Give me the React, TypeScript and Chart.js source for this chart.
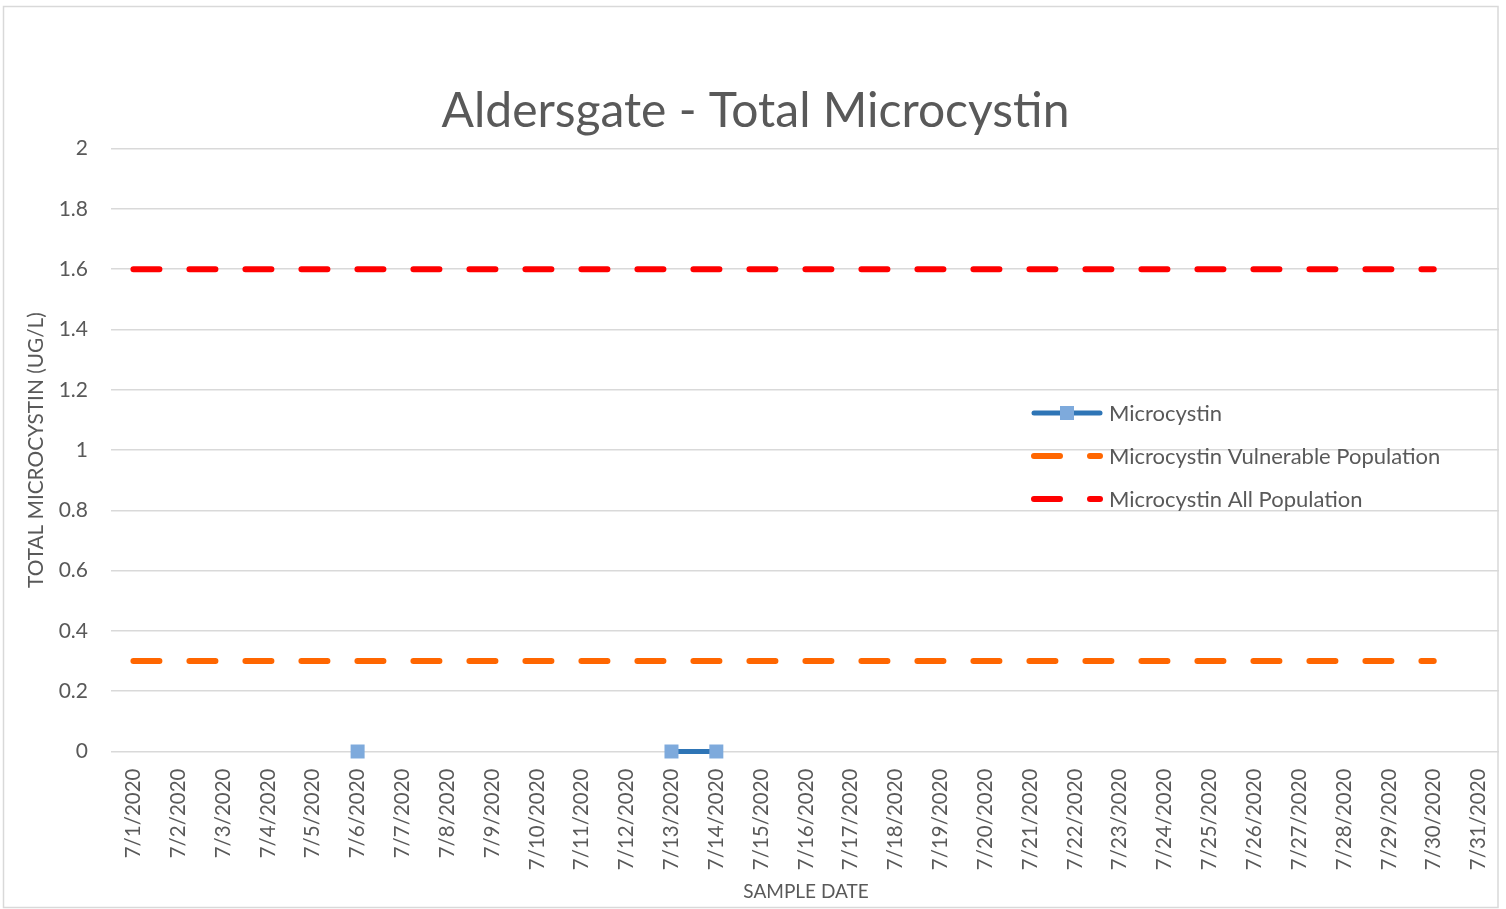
import React, { useEffect, useRef } from "react";
import { Chart, registerables } from "chart.js";

Chart.register(...registerables);

const CHART_TITLE = "Aldersgate - Total Microcystin";
const X_TITLE = "SAMPLE DATE";
const Y_TITLE = "TOTAL MICROCYSTIN (UG/L)";

const DATES = [
  "7/1/2020", "7/2/2020", "7/3/2020", "7/4/2020", "7/5/2020", "7/6/2020", "7/7/2020", "7/8/2020",
  "7/9/2020", "7/10/2020", "7/11/2020", "7/12/2020", "7/13/2020", "7/14/2020", "7/15/2020",
  "7/16/2020", "7/17/2020", "7/18/2020", "7/19/2020", "7/20/2020", "7/21/2020", "7/22/2020",
  "7/23/2020", "7/24/2020", "7/25/2020", "7/26/2020", "7/27/2020", "7/28/2020", "7/29/2020",
  "7/30/2020", "7/31/2020",
];

const MICROCYSTIN: (number | null)[] = [
  null, null, null, null, null, 0, null, null, null, null, null, null, 0, 0, null,
  null, null, null, null, null, null, null, null, null, null, null, null, null, null,
  null, null,
];

const VULNERABLE_POP: (number | null)[] = [
  0.3, 0.3, 0.3, 0.3, 0.3, 0.3, 0.3, 0.3, 0.3, 0.3, 0.3, 0.3, 0.3, 0.3, 0.3,
  0.3, 0.3, 0.3, 0.3, 0.3, 0.3, 0.3, 0.3, 0.3, 0.3, 0.3, 0.3, 0.3, 0.3, 0.3,
  null,
];

const ALL_POP: (number | null)[] = [
  1.6, 1.6, 1.6, 1.6, 1.6, 1.6, 1.6, 1.6, 1.6, 1.6, 1.6, 1.6, 1.6, 1.6, 1.6,
  1.6, 1.6, 1.6, 1.6, 1.6, 1.6, 1.6, 1.6, 1.6, 1.6, 1.6, 1.6, 1.6, 1.6, 1.6,
  null,
];

const SERIES_NAMES = ["Microcystin", "Microcystin Vulnerable Population", "Microcystin All Population"];

const Y_MIN = 0;
const Y_MAX = 2;
const Y_STEP = 0.2;

const FONT = "Lato, 'Open Sans', sans-serif";
const TEXT = "#595959";
const GRID = "#D9D9D9";

const W = 1506;
const H = 909;

const frameAndLegend = {
  id: "frameAndLegend",
  beforeDraw(chart: any) {
    const ctx = chart.ctx;
    ctx.save();
    ctx.fillStyle = "#FFFFFF";
    ctx.fillRect(0, 0, W, H);
    ctx.restore();
  },
  afterDraw(chart: any) {
    const ctx = chart.ctx;
    ctx.save();
    ctx.fillStyle = "#FFFFFF";
    ctx.fillRect(1499, 0, W - 1499, H);
    ctx.strokeStyle = GRID;
    ctx.lineWidth = 1.5;
    ctx.strokeRect(3.5, 6.5, 1494.5, 901);

    const ys = [413, 456, 499];
    const lx0 = 1034;
    const lx1 = 1100;
    chart.data.datasets.forEach((ds: any, i: number) => {
      const y = ys[i];
      ctx.save();
      ctx.strokeStyle = ds.borderColor;
      ctx.lineWidth = ds.borderWidth;
      ctx.lineCap = "round";
      ctx.setLineDash(ds.borderDash || []);
      ctx.beginPath();
      ctx.moveTo(lx0, y);
      ctx.lineTo(lx1, y);
      ctx.stroke();
      ctx.setLineDash([]);
      if (ds.pointRadius > 0) {
        const s = 14;
        ctx.fillStyle = ds.pointBackgroundColor;
        ctx.fillRect((lx0 + lx1) / 2 - s / 2, y - s / 2, s, s);
      }
      ctx.fillStyle = TEXT;
      ctx.font = `22px ${FONT}`;
      ctx.textBaseline = "middle";
      ctx.textAlign = "left";
      ctx.fillText(ds.label, 1109, y + 1);
      ctx.restore();
    });
    ctx.restore();
  },
};

export default function App() {
  const canvasRef = useRef<HTMLCanvasElement | null>(null);

  useEffect(() => {
    document.body.style.margin = "0";
    const canvas = canvasRef.current;
    if (!canvas) return;
    const chart = new Chart(canvas, {
      type: "line",
      data: {
        labels: DATES,
        datasets: [
          {
            label: SERIES_NAMES[0],
            data: MICROCYSTIN,
            borderColor: "#2E75B6",
            borderWidth: 5,
            pointStyle: "rect",
            pointRadius: 9.9,
            pointBorderWidth: 0,
            pointBackgroundColor: "#7EAADC",
            pointBorderColor: "#7EAADC",
            spanGaps: false,
            borderCapStyle: "round",
            clip: false,
          },
          {
            label: SERIES_NAMES[1],
            data: VULNERABLE_POP,
            borderColor: "#FF6600",
            borderWidth: 6,
            borderDash: [26, 30],
            borderCapStyle: "round",
            pointRadius: 0,
            clip: false,
          },
          {
            label: SERIES_NAMES[2],
            data: ALL_POP,
            borderColor: "#FF0000",
            borderWidth: 6,
            borderDash: [26, 30],
            borderCapStyle: "round",
            pointRadius: 0,
            clip: false,
          },
        ],
      },
      options: {
        responsive: false,
        animation: false,
        devicePixelRatio: 1,
        layout: { autoPadding: false, padding: { left: 10, right: 5, top: 0, bottom: 0 } },
        plugins: {
          legend: { display: false },
          tooltip: { enabled: false },
          title: {
            display: true,
            text: CHART_TITLE,
            color: TEXT,
            font: { family: FONT, size: 48, weight: "normal", lineHeight: 1.2 },
            padding: { top: 83, bottom: 8 },
          },
        },
        scales: {
          x: {
            type: "category",
            offset: true,
            grid: { display: false },
            border: { display: false },
            ticks: {
              autoSkip: false,
              minRotation: 90,
              maxRotation: 90,
              color: TEXT,
              padding: 9,
              font: { family: FONT, size: 20.5 },
            },
            title: {
              display: true,
              text: X_TITLE,
              color: TEXT,
              font: { family: FONT, size: 19, lineHeight: 1.2 },
              padding: { top: 0, bottom: 6 },
            },
            afterFit(scale: any) {
              scale.height = H - 751.5;
              scale.paddingLeft = 0;
              scale.paddingRight = 0;
            },
          },
          y: {
            min: Y_MIN,
            max: Y_MAX,
            grid: { color: GRID, lineWidth: 1.5, drawTicks: false },
            border: { display: false },
            ticks: {
              stepSize: Y_STEP,
              color: TEXT,
              padding: 23,
              font: { family: FONT, size: 21 },
              callback: (v: any) => String(Number(Number(v).toFixed(1))),
            },
            title: {
              display: true,
              text: Y_TITLE,
              color: TEXT,
              font: { family: FONT, size: 20.8, lineHeight: 1.2 },
              padding: { top: 14, bottom: 0 },
            },
            afterFit(scale: any) {
              scale.width = 101;
            },
          },
        },
      },
      plugins: [frameAndLegend],
    } as any);
    return () => chart.destroy();
  }, []);

  return (
    <div style={{ position: "absolute", left: 0, top: 0, width: W, height: H }}>
      <canvas ref={canvasRef} width={W} height={H} style={{ display: "block" }} />
    </div>
  );
}
